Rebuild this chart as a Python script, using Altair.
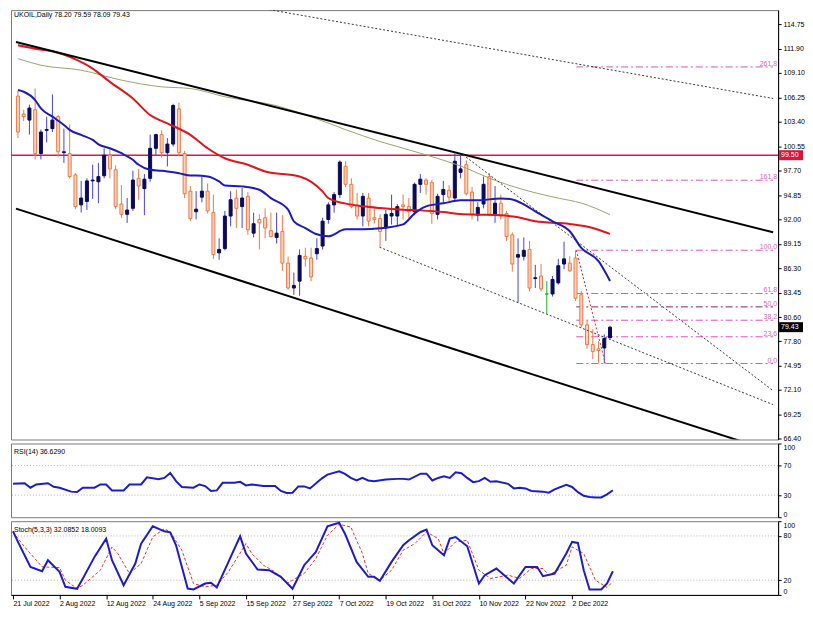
import altair as alt
import pandas as pd

FONT = "Liberation Sans"

# ---------------- data ----------------
bar_index = list(range(104))
opens = [106.4, 104.3, 103.6, 104.8, 99.7, 102.4, 102.6, 104.0, 99.8, 99.7,
         97.2, 93.7, 94.1, 96.5, 96.4, 97.1, 99.5, 97.8, 93.8, 92.6,
         93.3, 96.8, 95.6, 96.8, 100.3, 101.9, 99.8, 100.8, 104.9, 99.7,
         95.3, 92.9, 94.6, 95.3, 92.8, 88.1, 88.6, 92.4, 94.5, 93.5,
         94.7, 90.4, 92.0, 92.2, 90.7, 89.9, 90.6, 86.9, 84.0, 84.8,
         87.7, 87.5, 88.0, 88.9, 92.0, 93.7, 94.9, 98.2, 96.1, 93.7,
         92.4, 94.5, 92.2, 92.1, 91.0, 92.4, 92.4, 93.7, 93.5, 92.9,
         96.1, 96.6, 96.3, 92.6, 94.9, 95.4, 94.5, 97.5, 98.4, 95.2,
         92.5, 93.8, 97.0, 92.6, 93.9, 92.7, 90.2, 87.6, 87.7, 88.5,
         85.1, 85.4, 83.3, 83.3, 84.6, 86.8, 86.9, 87.5, 83.2, 79.7,
         77.4, 76.9, 77.0, 78.20]
highs = [107.0, 104.8, 105.4, 107.3, 102.5, 104.0, 106.6, 104.2, 102.6, 103.1,
         97.4, 96.5, 96.8, 98.4, 98.6, 100.3, 100.3, 98.3, 96.0, 94.5,
         97.7, 97.9, 97.3, 101.9, 102.0, 102.4, 101.5, 105.5, 105.6, 100.0,
         95.9, 95.3, 97.0, 96.2, 94.9, 89.8, 93.0, 95.3, 95.5, 95.7,
         95.2, 92.8, 92.6, 93.3, 92.8, 92.8, 92.5, 87.7, 85.8, 88.5,
         88.7, 88.7, 89.8, 92.2, 94.0, 95.2, 98.9, 98.8, 96.8, 95.1,
         95.1, 95.1, 93.3, 92.6, 93.1, 94.9, 93.8, 94.9, 94.5, 96.3,
         97.3, 96.8, 96.6, 95.0, 96.5, 96.0, 99.7, 99.6, 98.9, 95.8,
         94.0, 97.0, 97.4, 95.9, 94.9, 93.0, 90.5, 89.8, 89.9, 89.5,
         86.7, 86.8, 84.8, 85.4, 87.4, 89.4, 87.7, 88.4, 83.65, 80.2,
         79.2, 77.8, 78.6, 79.59]
lows = [101.5, 103.5, 101.9, 99.0, 99.0, 101.0, 102.2, 99.3, 98.6, 96.8,
        93.2, 92.8, 93.1, 94.4, 93.9, 96.8, 96.8, 93.2, 92.2, 91.6,
        93.0, 94.3, 92.5, 96.4, 99.5, 99.2, 98.2, 100.5, 99.4, 94.5,
        91.8, 92.0, 94.0, 92.7, 87.4, 87.3, 88.4, 91.2, 91.0, 91.0,
        90.2, 89.9, 88.5, 89.8, 89.9, 89.2, 86.0, 83.8, 83.2, 83.1,
        86.5, 84.8, 87.3, 88.5, 91.5, 92.8, 94.5, 95.8, 93.3, 92.0,
        91.2, 91.2, 91.5, 88.8, 89.5, 91.4, 91.2, 92.0, 92.2, 92.5,
        95.1, 94.9, 91.5, 92.0, 93.9, 94.1, 94.1, 96.8, 94.8, 92.0,
        91.8, 93.3, 92.4, 91.6, 92.0, 89.5, 85.9, 82.3, 87.2, 83.6,
        84.0, 83.6, 81.0, 83.0, 84.4, 86.2, 85.9, 82.5, 79.4, 76.9,
        75.7, 75.2, 75.2, 78.09]
closes = [102.2, 104.0, 105.0, 99.7, 102.2, 102.5, 103.6, 99.9, 99.9, 97.0,
          93.5, 94.5, 96.5, 96.6, 97.0, 99.5, 97.9, 93.5, 92.6, 93.1,
          96.6, 95.9, 96.7, 100.3, 101.9, 99.8, 100.8, 105.3, 99.8, 95.0,
          92.1, 93.2, 95.3, 93.0, 87.9, 88.5, 92.4, 94.3, 93.3, 94.5,
          90.8, 91.5, 91.6, 91.0, 90.0, 90.4, 86.9, 84.0, 84.3, 87.8,
          87.4, 85.3, 88.6, 91.8, 93.7, 94.9, 98.7, 96.1, 93.5, 92.4,
          94.7, 91.8, 92.0, 90.6, 92.6, 92.7, 93.5, 93.5, 92.9, 96.1,
          96.7, 96.1, 92.7, 94.7, 95.5, 94.6, 98.8, 97.9, 95.0, 92.6,
          93.4, 96.1, 92.6, 93.9, 92.4, 90.0, 86.8, 87.9, 88.4, 84.0,
          85.2, 83.9, 83.3, 85.0, 86.6, 87.4, 86.0, 82.8, 79.7, 77.4,
          76.6, 76.7, 78.1, 79.43]

date_label_bars = [0, 8, 16, 24, 32, 40, 48, 56, 64, 72, 80, 88, 96]
date_labels = ["21 Jul 2022", "2 Aug 2022", "12 Aug 2022", "24 Aug 2022", "5 Sep 2022",
               "15 Sep 2022", "27 Sep 2022", "7 Oct 2022", "19 Oct 2022", "31 Oct 2022",
               "10 Nov 2022", "22 Nov 2022", "2 Dec 2022"]
price_ticks = [114.75, 111.90, 109.10, 106.25, 103.40, 100.55, 97.70, 94.85, 92.00,
               89.15, 86.30, 83.45, 80.60, 77.80, 74.95, 72.10, 69.25, 66.40]

# moving averages
blue_bar = [0, 1, 3, 4, 6, 8, 9, 11, 13, 14, 16, 18, 20, 21, 23, 25, 26, 28, 30, 31,
            33, 35, 36, 39, 42, 44, 47, 48, 50, 52, 54, 57, 60, 63, 67, 69, 71, 74, 77, 80,
            84, 86, 88, 90, 93, 96, 98, 101, 103]
blue_val = [107.10, 106.90, 105.93, 104.96, 104.00, 103.03, 102.45, 101.87, 101.28, 100.77,
            100.31, 99.73, 98.96, 98.38, 97.80, 97.68, 97.60, 97.40, 97.13, 97.13,
            97.02, 96.44, 95.97, 95.86, 95.47, 94.49, 93.14, 91.78, 91.00, 90.27,
            90.04, 90.85, 90.85, 90.97, 91.43, 92.71, 93.53, 93.88, 94.23, 94.23,
            94.46, 94.34, 93.76, 92.95, 91.78, 90.62, 88.68, 87.13, 84.81]
red_bar = [0, 3, 6, 9, 13, 16, 20, 23, 26, 30, 33, 36, 40, 43, 49, 53, 54, 58, 60, 63,
           67, 70, 74, 77, 80, 84, 87, 90, 96, 100, 103]
red_val = [112.33, 111.93, 111.63, 110.97, 109.61, 108.06, 106.12, 104.19, 103.21, 101.87,
           100.31, 99.14, 98.38, 97.60, 97.02, 95.27, 94.49, 93.73, 93.53, 93.33,
           93.14, 93.06, 92.87, 92.63, 92.56, 92.48, 92.25, 91.78, 91.47, 91.00, 90.31]
olive_bar = [0, 4, 11, 18, 25, 30, 36, 45, 50, 57, 63, 71, 78, 82, 88, 94, 98, 103]
olive_val = [110.77, 110.00, 109.42, 108.26, 107.48, 107.28, 106.32, 105.27, 104.23,
             102.48, 101.09, 99.54, 97.98, 96.82, 95.47, 94.49, 93.91, 92.56]

# trend lines (two points each: bar, price)
chan_name = ["upper", "upper", "lower", "lower"]
chan_bar = [-0.34, 131.37, -0.34, 131.37]
chan_price = [112.71, 90.50, 93.26, 64.92]
dot_name = ["d1", "d1", "d2", "d2", "d3", "d3"]
dot_bar = [38.95, 131.37, 62.9, 131.37, 77.4, 131.37]
dot_price = [117.05, 106.12, 88.76, 70.39, 99.57, 72.02]
fibdiag_bar = [97.13, 102.19]
fibdiag_price = [88.41, 75.19]

# fibonacci levels
fib_labels = ["0.0", "23.6", "38.2", "50.0", "61.8", "100.0", "161.8", "261.8"]
fib_prices = [75.19, 78.31, 80.24, 81.80, 83.36, 88.41, 96.58, 109.80]
fib_from_bar = 97.13
fib_to_bar = 131.37

hline_price = 99.50
last_price = 79.43

# RSI(14)
rsi_bar = [0, 2, 3, 4, 6, 7, 8, 10, 11, 12, 14, 15, 16, 17, 19, 20, 22, 23, 25, 26,
           27, 28, 29, 31, 32, 33, 34, 35, 36, 38, 39, 40, 41, 43, 45, 46, 47, 48, 49, 50,
           51, 53, 54, 56, 57, 58, 59, 60, 61, 62, 64, 66, 67, 68, 70, 71, 72, 73, 74, 75,
           76, 77, 78, 79, 80, 81, 82, 83, 85, 86, 87, 88, 89, 91, 92, 93, 95, 96, 97, 98,
           99, 100, 101, 102, 103]
rsi_val = [45.3, 46.2, 40.0, 44.4, 46.2, 41.3, 40.0, 34.7, 34.2, 40.0,
           40.0, 44.4, 44.4, 36.4, 36.4, 44.4, 44.4, 54.2, 51.6, 53.3,
           60.0, 48.9, 40.9, 40.0, 44.4, 42.2, 35.6, 36.4, 46.7, 46.7,
           48.0, 43.1, 44.4, 42.2, 42.2, 35.6, 32.9, 33.3, 41.8, 41.8,
           39.1, 52.4, 57.8, 62.2, 58.7, 53.3, 49.8, 53.3, 49.8, 48.9,
           51.1, 52.0, 52.0, 51.1, 59.1, 59.1, 49.8, 53.3, 55.6, 53.3,
           60.9, 59.6, 53.3, 47.6, 48.9, 53.3, 48.0, 48.9, 45.3, 39.1,
           40.0, 39.1, 35.6, 34.7, 33.3, 37.8, 44.0, 41.0, 34.0, 29.0,
           27.5, 26.7, 26.8, 31.1, 36.6]

# Stochastic(5,3,3)
k_bar = [0, 1, 3, 5, 6, 8, 9, 11, 12, 14, 16, 17, 19, 21, 22, 24, 26, 27, 28, 30,
         31, 33, 34, 35, 37, 39, 40, 42, 44, 46, 48, 50, 52, 54, 56, 57, 59, 61, 62, 63,
         65, 67, 68, 70, 71, 72, 74, 75, 76, 78, 80, 81, 83, 85, 86, 88, 90, 91, 93, 95,
         96, 97, 98, 99, 100, 101, 102, 103]
k_val = [86.3, 69.6, 38.0, 32.2, 47.1, 31.3, 11.0, 8.3, 22.3, 51.6,
         76.4, 47.1, 13.2, 42.6, 69.6, 93.1, 86.3, 84.9, 67.4, 8.7,
         7.4, 15.5, 16.4, 10.1, 44.8, 79.5, 56.1, 34.4, 33.5, 24.5,
         8.3, 40.3, 58.3, 93.1, 98.0, 83.1, 44.8, 24.5, 24.5, 19.1,
         44.8, 67.4, 74.1, 85.4, 88.6, 67.4, 53.8, 76.4, 78.6, 66.0,
         15.5, 26.8, 35.8, 22.3, 15.5, 38.0, 38.0, 25.4, 29.0, 56.1,
         71.9, 70.5, 33.5, 7.4, 7.4, 7.4, 15.5, 32.1]
d_bar = [0, 2, 4, 5, 8, 9, 11, 12, 15, 17, 18, 20, 22, 24, 26, 27, 29, 31, 33, 35,
         37, 40, 41, 43, 45, 47, 50, 52, 54, 56, 58, 60, 61, 63, 65, 67, 69, 71, 73, 74,
         76, 78, 80, 82, 85, 87, 89, 91, 92, 95, 96, 98, 100, 102, 103]
d_val = [85.4, 65.1, 47.1, 38.0, 37.1, 20.0, 8.7, 13.2, 33.5, 65.1,
         56.1, 29.0, 42.6, 78.6, 89.9, 85.4, 60.6, 15.5, 11.0, 13.2,
         31.3, 69.6, 56.1, 40.3, 31.3, 15.5, 29.0, 49.3, 80.9, 95.8,
         92.2, 56.1, 29.0, 20.0, 33.5, 60.6, 69.6, 85.4, 76.4, 56.1,
         71.9, 74.1, 33.5, 22.3, 26.8, 22.3, 35.8, 35.8, 26.8, 40.3,
         65.1, 56.1, 20.0, 10.1, 18.0]

# ---------------- layout ----------------
W = 770
H_MAIN = 431
H_SUB = 74
xs = alt.Scale(domain=[-0.34, 131.37], nice=False, zero=False)
ys = alt.Scale(domain=[66.32, 116.43], nice=False, zero=False)
X = alt.X("i:Q", scale=xs, axis=None)

yaxis = alt.Axis(orient="right", values=price_ticks, format=".2f", labelFont=FONT,
                 labelFontSize=7, labelColor="#000", tickColor="#000", tickSize=3,
                 domainColor="#000", grid=False, title=None, labelPadding=2,
                 labelOverlap=False)


def Y(field):
    return alt.Y(field, type="quantitative", scale=ys, axis=yaxis)


cdf = pd.DataFrame({"i": bar_index, "o": opens, "h": highs, "l": lows, "c": closes})
cdf["dir"] = ["up" if c > o else ("down" if c < o else "doji") for o, c in zip(opens, closes)]
dirs = ["up", "down", "doji"]

wicks = alt.Chart(cdf).mark_rule(strokeWidth=1).encode(
    x=X, y=Y("l"), y2="h:Q",
    color=alt.Color("dir:N", scale=alt.Scale(domain=dirs, range=["#4343dc", "#ec7a44", "#18b418"]), legend=None))
bodies = alt.Chart(cdf).mark_bar(size=3, strokeWidth=1).encode(
    x=X, y=Y("o"), y2="c:Q",
    fill=alt.Fill("dir:N", scale=alt.Scale(domain=dirs, range=["#0a0a5a", "#fdd3bd", "#18b418"]), legend=None),
    stroke=alt.Stroke("dir:N", scale=alt.Scale(domain=dirs, range=["#0a0a5a", "#ec7a44", "#18b418"]), legend=None))

hline = alt.Chart(pd.DataFrame({"v": [hline_price]})).mark_rule(color="#d91a48", strokeWidth=1.5).encode(y=Y("v"))

fdf = pd.DataFrame({"lab": fib_labels, "p": fib_prices,
                    "a": [fib_from_bar] * len(fib_labels), "b": [fib_to_bar] * len(fib_labels)})
fib_lines = alt.Chart(fdf).transform_filter("datum.lab != '50.0'").mark_rule(
    color="#e055b0", strokeWidth=1, strokeDash=[7, 3, 2, 3]).encode(
    x=alt.X("a:Q", scale=xs, axis=None), x2="b:Q", y=Y("p"))
fib_mid = alt.Chart(fdf).transform_filter("datum.lab == '50.0'").mark_rule(
    color="#8a2560", strokeWidth=1, strokeDash=[7, 3, 2, 3]).encode(
    x=alt.X("a:Q", scale=xs, axis=None), x2="b:Q", y=Y("p"))
fib_text = alt.Chart(fdf).mark_text(align="right", baseline="bottom", dy=0, font=FONT,
                                    fontSize=7, color="#e066ba").encode(
    x=alt.value(W - 1), y=Y("p"), text="lab:N")

olive = alt.Chart(pd.DataFrame({"i": olive_bar, "v": olive_val})).mark_line(
    color="#9ea46c", strokeWidth=1, interpolate="monotone").encode(x=X, y=Y("v"))
redma = alt.Chart(pd.DataFrame({"i": red_bar, "v": red_val})).mark_line(
    color="#e3141c", strokeWidth=2, interpolate="monotone").encode(x=X, y=Y("v"))
bluema = alt.Chart(pd.DataFrame({"i": blue_bar, "v": blue_val})).mark_line(
    color="#1c1cb8", strokeWidth=2, interpolate="monotone").encode(x=X, y=Y("v"))

chan = alt.Chart(pd.DataFrame({"n": chan_name, "i": chan_bar, "v": chan_price})).mark_line(
    color="#000", strokeWidth=2, clip=True).encode(x=X, y=Y("v"), detail="n:N")
dots = alt.Chart(pd.DataFrame({"n": dot_name, "i": dot_bar, "v": dot_price})).mark_line(
    color="#3a3a3a", strokeWidth=1, strokeDash=[2, 2], clip=True).encode(x=X, y=Y("v"), detail="n:N")
fibdiag = alt.Chart(pd.DataFrame({"i": fibdiag_bar, "v": fibdiag_price})).mark_line(
    color="#e02828", strokeWidth=1, strokeDash=[2, 2]).encode(x=X, y=Y("v"))

title = alt.Chart(pd.DataFrame({"t": ["UKOIL,Daily  78.20 79.59 78.09 79.43"]})).mark_text(
    align="left", baseline="top", font=FONT, fontSize=7, color="#000").encode(
    x=alt.value(3), y=alt.value(1), text="t:N")

tag_line = pd.DataFrame({"v": [hline_price], "lab": ["99.50"]})
tag_last = pd.DataFrame({"v": [last_price], "lab": ["79.43"]})
box_line = alt.Chart(tag_line).mark_rect(yOffset=-5, y2Offset=5, color="#dc143c").encode(
    x=alt.value(W + 1), x2=alt.value(W + 25), y=Y("v"), y2="v:Q")
box_last = alt.Chart(tag_last).mark_rect(yOffset=-5, y2Offset=5, color="#000000").encode(
    x=alt.value(W + 1), x2=alt.value(W + 25), y=Y("v"), y2="v:Q")
txt_line = alt.Chart(tag_line).mark_text(align="left", baseline="middle", font=FONT, fontSize=7,
                                         color="#ffffff").encode(
    x=alt.value(W + 3), y=Y("v"), text="lab:N")
txt_last = alt.Chart(tag_last).mark_text(align="left", baseline="middle", font=FONT, fontSize=7,
                                         color="#ffffff").encode(
    x=alt.value(W + 3), y=Y("v"), text="lab:N")

main = alt.layer(hline, fib_lines, fib_mid, wicks, bodies, olive, redma, bluema,
                 chan, dots, fibdiag, fib_text, title,
                 box_line, box_last, txt_line, txt_last).properties(width=W, height=H_MAIN)

# ---------------- RSI ----------------
rs = alt.Scale(domain=[0, 100], nice=False, zero=False)
raxis = alt.Axis(orient="right", values=[0, 30, 70, 100], format="d", labelFont=FONT,
                 labelFontSize=7, labelColor="#000", tickColor="#000", tickSize=3,
                 domainColor="#000", grid=False, title=None, labelPadding=2,
                 labelFlush=True, labelOverlap=False)
rsi_grid = alt.Chart(pd.DataFrame({"v": [30, 70]})).mark_rule(
    color="#b4b4b4", strokeDash=[1, 2], strokeWidth=1).encode(y=alt.Y("v:Q", scale=rs, axis=raxis))
rsi_line = alt.Chart(pd.DataFrame({"i": rsi_bar, "v": rsi_val})).mark_line(
    color="#1c1cc8", strokeWidth=2).encode(x=X, y=alt.Y("v:Q", scale=rs, axis=raxis))
rsi_title = alt.Chart(pd.DataFrame({"t": ["RSI(14) 36.6290"]})).mark_text(
    align="left", baseline="top", font=FONT, fontSize=7, color="#000").encode(
    x=alt.value(3), y=alt.value(5), text="t:N")
rsi = alt.layer(rsi_grid, rsi_line, rsi_title).properties(width=W, height=H_SUB)

# ---------------- Stochastic ----------------
label_expr = ("[" + ",".join("'%s'" % d for d in date_labels) + "][indexof(["
              + ",".join(str(b) for b in date_label_bars) + "], datum.value)]")
xaxis = alt.Axis(values=date_label_bars, labelExpr=label_expr, labelAlign="left",
                 labelFont=FONT, labelFontSize=7, labelColor="#000", tickColor="#000",
                 tickSize=4, labelPadding=1, domainColor="#000", grid=False, title=None,
                 labelFlush=False, labelOverlap=False, labelBound=False)
XS = alt.X("i:Q", scale=xs, axis=xaxis)
saxis = alt.Axis(orient="right", values=[0, 20, 80, 100], format="d", labelFont=FONT,
                 labelFontSize=7, labelColor="#000", tickColor="#000", tickSize=3,
                 domainColor="#000", grid=False, title=None, labelPadding=2,
                 labelFlush=True, labelOverlap=False)
st_grid = alt.Chart(pd.DataFrame({"v": [20, 80]})).mark_rule(
    color="#b4b4b4", strokeDash=[1, 2], strokeWidth=1).encode(y=alt.Y("v:Q", scale=rs, axis=saxis))
st_k = alt.Chart(pd.DataFrame({"i": k_bar, "v": k_val})).mark_line(
    color="#1c1cc8", strokeWidth=2).encode(x=XS, y=alt.Y("v:Q", scale=rs, axis=saxis))
st_d = alt.Chart(pd.DataFrame({"i": d_bar, "v": d_val})).mark_line(
    color="#f03030", strokeWidth=1, strokeDash=[3, 2]).encode(x=XS, y=alt.Y("v:Q", scale=rs, axis=saxis))
st_title = alt.Chart(pd.DataFrame({"t": ["Stoch(5,3,3) 32.0852 18.0093"]})).mark_text(
    align="left", baseline="top", font=FONT, fontSize=7, color="#000").encode(
    x=alt.value(3), y=alt.value(5), text="t:N")
stoch = alt.layer(st_grid, st_d, st_k, st_title).properties(width=W, height=H_SUB)

chart = alt.vconcat(main, rsi, stoch, spacing=4, bounds="flush").properties(
    padding={"left": 0, "top": 0, "right": 0, "bottom": 0}, background="white"
).configure_view(stroke="#7a7a7a", strokeWidth=1)

chart.save("out.html", embed_options={"renderer": "svg", "actions": False})
